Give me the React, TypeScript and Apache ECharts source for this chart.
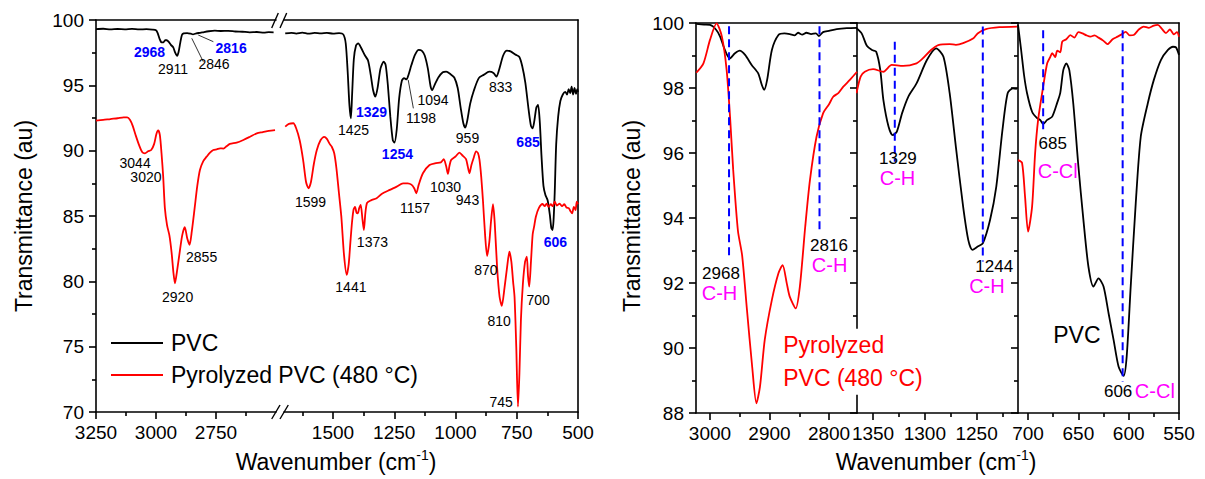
import React, { useEffect, useRef } from 'react';
import * as echarts from 'echarts';

const FONT = "'Liberation Sans', Arial, Helvetica, sans-serif";

// ---------- Left panel: full spectra (wavenumber, transmittance) ----------
const pvcHigh = [
  [3250, 99.3], [3220, 99.33], [3190, 99.28], [3160, 99.31], [3130, 99.29], [3100, 99.32], [3070, 99.28],
  [3040, 99.3], [3015, 99.27], [3000, 99.22], [2993, 99.0], [2986, 98.6], [2978, 98.3], [2970, 98.28],
  [2962, 98.45], [2955, 98.45], [2947, 98.32], [2938, 98.1], [2928, 97.9], [2920, 97.5], [2912, 97.25],
  [2906, 97.55], [2899, 98.25], [2892, 98.85], [2885, 98.98], [2870, 99.0], [2855, 98.95], [2846, 98.9],
  [2832, 98.98], [2816, 99.02], [2800, 99.08], [2780, 99.14], [2755, 99.18], [2730, 99.16], [2700, 99.17],
  [2670, 99.12], [2640, 99.1], [2610, 99.06], [2580, 99.08], [2550, 99.04], [2530, 99.07], [2510, 99.06],
];
const pvcLow = [
  [1695, 98.98], [1670, 99.02], [1650, 98.96], [1625, 99.03], [1600, 98.95], [1575, 99.02], [1550, 98.97],
  [1525, 99.01], [1500, 98.96], [1475, 98.99], [1458, 98.9], [1448, 98.2], [1440, 96.0], [1433, 93.5],
  [1427, 92.48], [1422, 94.3], [1415, 97.0], [1406, 98.05], [1397, 98.21], [1386, 97.9], [1370, 97.3],
  [1357, 96.9], [1346, 95.8], [1336, 94.6], [1327, 94.13], [1318, 94.8], [1306, 96.3], [1293, 96.82],
  [1285, 96.55], [1276, 95.0], [1266, 92.6], [1256, 90.8], [1249, 90.62], [1240, 91.6], [1230, 94.0],
  [1219, 95.35], [1210, 95.55], [1200, 95.45], [1191, 95.85], [1180, 96.55], [1165, 97.35], [1150, 97.72],
  [1138, 97.65], [1126, 97.3], [1113, 96.3], [1102, 94.95], [1095, 94.64], [1086, 95.0], [1070, 95.6],
  [1052, 96.0], [1038, 96.05], [1020, 95.85], [1005, 95.6], [991, 94.8], [979, 93.3], [968, 92.1],
  [960, 91.76], [952, 92.3], [940, 93.6], [925, 94.6], [905, 95.55], [885, 95.8], [862, 96.05],
  [845, 95.95], [833, 95.66], [822, 96.2], [805, 97.3], [790, 97.65], [775, 97.6], [755, 97.35],
  [740, 97.19], [728, 96.5], [715, 95.2], [702, 93.2], [692, 91.9], [685, 91.71], [678, 92.3],
  [670, 93.3], [663, 93.5], [656, 92.2], [649, 89.6], [641, 87.3], [633, 86.6], [624, 86.2],
  [615, 85.1], [609, 84.1], [604, 83.93], [600, 84.6], [595, 86.8], [589, 90.5], [581, 92.6],
  [572, 93.8], [562, 94.3], [552, 94.5], [545, 94.3], [538, 94.7], [532, 94.4], [526, 94.9],
  [520, 94.3], [514, 94.8], [508, 94.35], [503, 94.7], [500, 94.5],
];
const pyroHigh = [
  [3250, 92.3], [3220, 92.35], [3190, 92.42], [3160, 92.48], [3135, 92.55], [3120, 92.55], [3108, 92.35],
  [3097, 91.9], [3085, 91.2], [3070, 90.4], [3057, 89.88], [3046, 89.8], [3033, 89.95], [3020, 90.05],
  [3008, 90.5], [2998, 91.3], [2991, 91.55], [2984, 91.2], [2977, 89.8], [2970, 88.0], [2963, 85.6],
  [2954, 84.3], [2944, 83.5], [2935, 82.2], [2927, 80.6], [2921, 79.85], [2913, 80.7], [2903, 82.0],
  [2891, 83.5], [2880, 84.14], [2870, 83.3], [2860, 82.8], [2851, 83.8], [2839, 85.6], [2828, 87.3],
  [2817, 88.52], [2803, 89.2], [2789, 89.54], [2775, 89.85], [2761, 90.05], [2747, 90.1], [2733, 90.18],
  [2719, 90.16], [2705, 90.35], [2692, 90.52], [2664, 90.62], [2636, 90.82], [2610, 91.05], [2580, 91.33],
  [2555, 91.42], [2530, 91.52], [2504, 91.58],
];
const pyroLow = [
  [1695, 91.84], [1680, 92.05], [1662, 92.1], [1650, 91.7], [1636, 90.8], [1622, 89.3], [1610, 87.6],
  [1600, 87.12], [1590, 87.6], [1578, 89.0], [1566, 90.05], [1551, 90.8], [1536, 91.05], [1525, 90.9],
  [1513, 90.5], [1505, 90.3], [1495, 89.8], [1486, 88.65], [1476, 86.8], [1466, 84.95], [1455, 82.0],
  [1444, 80.49], [1436, 81.3], [1429, 83.0], [1422, 84.6], [1416, 85.5], [1410, 85.7], [1404, 85.25],
  [1399, 85.2], [1393, 85.6], [1387, 85.85], [1380, 84.8], [1374, 83.93], [1368, 85.2], [1361, 86.0],
  [1345, 86.2], [1322, 86.36], [1300, 86.7], [1268, 87.0], [1240, 87.25], [1214, 87.5], [1195, 87.5],
  [1180, 87.4], [1168, 87.1], [1160, 86.74], [1150, 87.4], [1133, 88.27], [1106, 88.9], [1080, 89.05],
  [1060, 89.1], [1048, 89.35], [1038, 88.8], [1031, 88.22], [1025, 88.8], [1018, 89.29], [1000, 89.55],
  [984, 89.85], [970, 89.6], [957, 89.35], [950, 88.8], [943, 88.27], [935, 88.9], [925, 89.5],
  [916, 89.95], [908, 89.8], [902, 89.29], [895, 88.0], [888, 86.2], [879, 83.5], [871, 81.94],
  [862, 83.0], [855, 84.6], [847, 85.9], [840, 84.5], [830, 81.0], [820, 78.8], [811, 78.12],
  [800, 79.5], [790, 81.0], [780, 82.27], [772, 81.5], [765, 80.0], [759, 78.8], [752, 75.0],
  [745, 70.41], [739, 73.0], [733, 77.04], [725, 79.8], [716, 81.5], [709, 81.89], [704, 80.4],
  [699, 79.6], [692, 81.5], [685, 83.6], [679, 84.2], [672, 84.95], [660, 85.6], [645, 85.92],
  [636, 85.75], [628, 85.95], [620, 85.7], [611, 85.9], [603, 85.75], [595, 86.1], [586, 85.8],
  [575, 85.95], [565, 85.75], [556, 85.9], [547, 85.65], [538, 85.6], [530, 85.35], [524, 85.2],
  [517, 85.7], [510, 85.45], [505, 86.1], [500, 85.9],
];

// ---------- Right panel: zoomed regions ----------
const pvcCH = [
  [3023, 99.97], [3010, 99.95], [3000, 99.94], [2990, 99.8], [2983, 99.58], [2975, 99.17], [2967, 98.91],
  [2958, 99.07], [2950, 99.15], [2941, 99.02], [2930, 98.71], [2919, 98.45], [2913, 98.1], [2909, 97.94],
  [2904, 98.25], [2896, 99.17], [2885, 99.63], [2875, 99.68], [2866, 99.66], [2858, 99.62], [2852, 99.7],
  [2845, 99.64], [2838, 99.7], [2830, 99.66], [2822, 99.68], [2817, 99.6], [2810, 99.72], [2800, 99.76],
  [2787, 99.81], [2770, 99.84], [2753, 99.85],
];
const pyroCH = [
  [3023, 98.47], [3011, 98.76], [3000, 99.48], [2989, 99.99], [2980, 99.58], [2972, 98.55], [2966, 97.02],
  [2961, 95.48], [2953, 93.6], [2946, 92.85], [2938, 91.2], [2929, 89.4], [2922, 88.3], [2916, 88.81],
  [2908, 90.25], [2896, 91.48], [2885, 92.3], [2878, 92.55], [2871, 91.99], [2866, 91.58], [2856, 91.22],
  [2849, 91.89], [2840, 93.73], [2832, 95.17], [2821, 96.5], [2810, 97.22], [2800, 97.5], [2793, 97.73],
  [2784, 97.85], [2776, 98.04], [2765, 98.25], [2753, 98.5],
];
const pvcCH2 = [
  [1366, 99.84], [1361, 99.68], [1356, 99.3], [1351, 99.17], [1347, 99.12], [1343, 98.55], [1340, 97.63],
  [1335, 96.81], [1331, 96.55], [1327, 96.66], [1322, 97.22], [1316, 97.73], [1308, 98.14], [1298, 98.86],
  [1289, 99.22], [1282, 98.96], [1276, 97.84], [1270, 96.19], [1263, 94.35], [1258, 93.32], [1254, 93.02],
  [1249, 93.12], [1244, 93.22], [1237, 93.94], [1231, 94.96], [1225, 96.71], [1220, 97.84], [1215, 97.99],
  [1211, 97.97],
];
const pyroCH2 = [
  [1366, 97.84], [1362, 98.35], [1358, 98.5], [1350, 98.58], [1340, 98.5], [1332, 98.71], [1321, 98.68],
  [1308, 98.76], [1302, 98.91], [1294, 99.17], [1287, 99.32], [1276, 99.35], [1270, 99.33], [1263, 99.38],
  [1253, 99.53], [1249, 99.68], [1241, 99.81], [1228, 99.87], [1211, 99.89],
];
const pvcCCl = [
  [710, 99.94], [707, 99.2], [704, 98.4], [701, 97.84], [696, 97.27], [691, 97.07], [688, 97.02],
  [685, 96.89], [681, 97.02], [676, 97.12], [671, 97.55], [668, 97.85], [665, 98.55], [662, 98.76],
  [659, 98.55], [655, 97.5], [650, 95.6], [645, 93.94], [640, 92.5], [635, 91.89], [630, 92.14],
  [625, 91.89], [620, 91.07], [615, 90.25], [610, 89.42], [605, 89.14], [602, 89.73], [598, 91.89],
  [593, 94.45], [588, 96.5], [581, 97.53], [575, 98.25], [568, 98.86], [561, 99.17], [556, 99.27],
  [553, 99.25], [550, 99.02],
];
const pyroCCl = [
  [710, 95.78], [706, 95.7], [703, 94.66], [700, 93.58], [696, 94.35], [693, 95.99], [690, 97.02],
  [685, 98.04], [681, 98.76], [678, 98.95], [676, 99.07], [673, 98.95], [671, 99.15], [668, 99.1],
  [666, 99.43], [662, 99.5], [658, 99.63], [654, 99.55], [650, 99.72], [646, 99.68], [642, 99.62],
  [638, 99.58], [634, 99.62], [630, 99.55], [625, 99.45], [621, 99.35], [616, 99.5], [611, 99.58],
  [607, 99.65], [603, 99.73], [599, 99.62], [595, 99.63], [590, 99.8], [585, 99.89], [580, 99.85],
  [575, 99.92], [571, 99.94], [567, 99.82], [563, 99.69], [559, 99.8], [555, 99.65], [552, 99.72], [550, 99.58],
];

// dashed marker lines: [wavenumber, top, bottom]
const marksCH = [[2968, 99.9, 92.77], [2816, 99.9, 93.63]];
const marksCH2 = [[1329, 99.42, 95.73], [1244, 99.89, 92.66]];
const marksCCl = [[685, 99.78, 96.71], [606, 99.78, 88.96]];

// peak labels: [wavenumber, transmittance, text]
const labelsHighBlack = [[2929, 96.25, '2911'], [2758, 96.63, '2846'], [3087, 89.05, '3044'], [3042, 88.0, '3020'], [2810, 81.86, '2855'], [2910, 78.8, '2920']];
const labelsHighBlue = [[3027, 97.55, '2968'], [2687, 97.86, '2816']];
const labelsLowBlack = [
  [1416, 91.58, '1425'], [1141, 92.5, '1198'], [1092, 93.88, '1094'], [951, 90.97, '959'], [816, 94.87, '833'],
  [1592, 86.07, '1599'], [1165, 85.61, '1157'], [1041, 87.22, '1030'], [951, 86.22, '943'], [1339, 83.01, '1373'],
  [1427, 79.57, '1441'], [876, 80.87, '870'], [663, 78.57, '700'], [822, 76.96, '810'], [814, 70.77, '745'],
];
const labelsLowBlue = [[1343, 92.96, '1329'], [1237, 89.75, '1254'], [704, 90.66, '685'], [592, 83.01, '606']];
// leader lines [x1, y1, x2, y2]
const leadersHigh = [[2851, 98.6, 2803, 96.81], [2824, 98.85, 2761, 98.34]];
const leadersLow = [[1193, 95.41, 1172, 93.24]];

const numCH = [[2981.5, 92.28, '2968'], [2800, 93.14, '2816']];
const bondCH = [[2984, 91.69, 'C-H'], [2799, 92.55, 'C-H']];
const numCH2 = [[1326, 95.82, '1329'], [1233, 92.52, '1244']];
const bondCH2 = [[1326.4, 95.23, 'C-H'], [1240, 91.91, 'C-H']];
const numCCl = [[675.5, 96.28, '685'], [610.5, 88.65, '606']];
const bondCCl = [[670.5, 95.45, 'C-Cl'], [574, 88.68, 'C-Cl']];
const nameCCl = [[651.5, 90.4, 'PVC']];
const nameCH = [[2877, 89.58, 'Pyrolyzed\nPVC (480 °C)']];

const legendItems = [
  { name: 'PVC', color: '#000000' },
  { name: 'Pyrolyzed PVC (480 °C)', color: '#ff0000' },
];

// axis extents / ticks
const leftHighX = { min: 2500, max: 3250, majors: [2750, 3000, 3250], minors: [2625, 2875, 3125] };
const leftLowX = { min: 500, max: 1700, majors: [500, 750, 1000, 1250, 1500], minors: [625, 875, 1125, 1375, 1625] };
const rightAX = { min: 2753, max: 3023.5, majors: [2800, 2900, 3000], minors: [2850, 2950] };
const rightBX = { min: 1210, max: 1365.5, majors: [1250, 1300, 1350], minors: [1225, 1275, 1325] };
const rightCX = { min: 550, max: 710, majors: [550, 600, 650, 700], minors: [575, 625, 675] };

const AX = { color: '#000', width: 1.6 };
const plain = (v: number) => String(v);

function xAxes(gridIndex: number, cfg: any) {
  return [
    {
      type: 'value', gridIndex, min: cfg.min, max: cfg.max, inverse: true, position: 'bottom',
      axisLine: { show: true, onZero: false, lineStyle: AX },
      axisTick: { show: true, inside: false, length: 7, customValues: cfg.majors, lineStyle: AX },
      axisLabel: { show: true, customValues: cfg.majors, formatter: plain, fontSize: 19, fontFamily: FONT, color: '#000', margin: 11 },
      splitLine: { show: false },
    },
    {
      type: 'value', gridIndex, min: cfg.min, max: cfg.max, inverse: true, position: 'bottom',
      axisLine: { show: false },
      axisTick: { show: true, inside: false, length: 4, customValues: cfg.minors, lineStyle: AX },
      axisLabel: { show: false },
      splitLine: { show: false },
    },
    {
      type: 'value', gridIndex, min: cfg.min, max: cfg.max, inverse: true, position: 'top',
      axisLine: { show: true, onZero: false, lineStyle: AX },
      axisTick: { show: false }, axisLabel: { show: false }, splitLine: { show: false },
    },
  ];
}

function yAxis(gridIndex: number, min: number, max: number, interval: number, labels: boolean, ticks: boolean, position = 'left', show = true) {
  return {
    type: 'value', gridIndex, min, max, interval, position, show,
    axisLine: { show: true, onZero: false, lineStyle: AX },
    axisTick: { show: ticks, inside: false, length: 7, lineStyle: AX },
    minorTick: { show: ticks, splitNumber: 2, length: 4, lineStyle: AX },
    axisLabel: { show: labels, formatter: plain, fontSize: 19, fontFamily: FONT, color: '#000', margin: 12 },
    splitLine: { show: false }, minorSplitLine: { show: false },
  };
}

function curve(data: number[][], color: string, xi: number, yi: number) {
  return {
    type: 'line', data, xAxisIndex: xi, yAxisIndex: yi, symbol: 'none', smooth: 0.25,
    lineStyle: { color, width: 1.8 }, silent: true, z: color === '#ff0000' ? 3 : 2,
  };
}

function dashes(marks: number[][], xi: number, yi: number) {
  return marks.map((m) => ({
    type: 'line', data: [[m[0], m[1]], [m[0], m[2]]], xAxisIndex: xi, yAxisIndex: yi, symbol: 'none',
    lineStyle: { color: '#0000ff', width: 2, type: [8, 5] }, silent: true, z: 4,
  }));
}

function leaders(items: number[][], xi: number, yi: number) {
  return items.map((m) => ({
    type: 'line', data: [[m[0], m[1]], [m[2], m[3]]], xAxisIndex: xi, yAxisIndex: yi, symbol: 'none',
    lineStyle: { color: '#000', width: 0.8 }, silent: true, z: 4,
  }));
}

function labels(items: any[], xi: number, yi: number, style: any) {
  return {
    type: 'scatter', data: items, xAxisIndex: xi, yAxisIndex: yi, symbolSize: 0, silent: true, z: 6,
    itemStyle: { color: 'rgba(0,0,0,0)', opacity: 1 },
    label: {
      show: true, position: 'inside', formatter: (p: any) => p.value[2], opacity: 1,
      fontFamily: FONT, textBorderWidth: 0, ...style,
    },
  };
}

function buildOption() {
  const grid = [
    { left: 96, top: 20, width: 180, height: 392 },
    { left: 284, top: 20, width: 294, height: 392 },
    { left: 696, top: 23, width: 161, height: 390 },
    { left: 857, top: 23, width: 161, height: 390 },
    { left: 1018, top: 23, width: 161, height: 390 },
  ];
  const xAxis = [
    ...xAxes(0, leftHighX), ...xAxes(1, leftLowX), ...xAxes(2, rightAX), ...xAxes(3, rightBX), ...xAxes(4, rightCX),
  ];
  const yAxisList = [
    yAxis(0, 70, 100, 5, true, true),                       // 0
    yAxis(1, 70, 100, 5, false, false, 'left', false),      // 1 hidden
    yAxis(1, 70, 100, 5, false, false, 'right'),            // 2 frame
    yAxis(2, 88, 100, 2, true, true),                       // 3
    yAxis(3, 88, 100, 2, false, true),                      // 4
    yAxis(4, 88, 100, 2, false, true),                      // 5
    yAxis(4, 88, 100, 2, false, false, 'right'),            // 6 frame
  ];
  const black = { fontSize: 14, color: '#000' };
  const blue = { fontSize: 14, color: '#0000ff', fontWeight: 'bold' };
  const num = { fontSize: 17, color: '#000' };
  const bond = { fontSize: 20, color: '#ff00ff' };
  const series: any[] = [
    curve(pvcHigh, '#000000', 0, 0), curve(pyroHigh, '#ff0000', 0, 0),
    curve(pvcLow, '#000000', 3, 1), curve(pyroLow, '#ff0000', 3, 1),
    curve(pvcCH, '#000000', 6, 3), curve(pyroCH, '#ff0000', 6, 3),
    curve(pvcCH2, '#000000', 9, 4), curve(pyroCH2, '#ff0000', 9, 4),
    curve(pvcCCl, '#000000', 12, 5), curve(pyroCCl, '#ff0000', 12, 5),
    ...dashes(marksCH, 6, 3), ...dashes(marksCH2, 9, 4), ...dashes(marksCCl, 12, 5),
    ...leaders(leadersHigh, 0, 0), ...leaders(leadersLow, 3, 1),
    labels(labelsHighBlack, 0, 0, black), labels(labelsHighBlue, 0, 0, blue),
    labels(labelsLowBlack, 3, 1, black), labels(labelsLowBlue, 3, 1, blue),
    labels(numCH, 6, 3, num), labels(bondCH, 6, 3, bond),
    labels(numCH2, 9, 4, num), labels(bondCH2, 9, 4, bond),
    labels(numCCl, 12, 5, num), labels(bondCCl, 12, 5, bond),
    labels(nameCCl, 12, 5, { fontSize: 23, color: '#000' }),
    {
      ...labels(nameCH, 6, 3, {}),
      label: {
        show: true, position: [0, 0], align: 'left', verticalAlign: 'middle', formatter: (p: any) => p.value[2],
        fontFamily: FONT, fontSize: 23, lineHeight: 33, color: '#ff0000', backgroundColor: '#ffffff',
        textBorderWidth: 0, opacity: 1,
      },
    },
  ];

  const slash = (x1: number, y1: number, x2: number, y2: number) => ({
    type: 'line', shape: { x1, y1, x2, y2 }, style: { stroke: '#000', lineWidth: 1.4 }, z: 10,
  });
  const xTitle = (x: number) => ({
    type: 'text', x, y: 462, z: 10,
    style: {
      text: '{a|Wavenumber (cm}{s|-1}{a|)}', align: 'center', verticalAlign: 'middle', fill: '#000',
      rich: {
        a: { fontSize: 23, fontFamily: FONT, lineHeight: 28, fill: '#000' },
        s: { fontSize: 14, fontFamily: FONT, lineHeight: 14, verticalAlign: 'top', fill: '#000' },
      },
    },
  });
  const yTitle = (x: number) => ({
    type: 'text', x, y: 216, rotation: Math.PI / 2, z: 10,
    style: { text: 'Transmittance (au)', fontSize: 23, fontFamily: FONT, fill: '#000', align: 'center', verticalAlign: 'middle' },
  });
  const graphic: any[] = [
    slash(271.7, 28, 278.3, 13), slash(280, 28, 286.7, 13),
    slash(271.7, 419, 280, 405), slash(280, 419, 288.3, 405),
    xTitle(336), xTitle(936), yTitle(24), yTitle(632),
  ];
  legendItems.forEach((it, i) => {
    const y = 343 + i * 32;
    graphic.push({ type: 'line', shape: { x1: 111, y1: y, x2: 163, y2: y }, style: { stroke: it.color, lineWidth: 2 }, z: 10 });
    graphic.push({
      type: 'text', x: 171, y, z: 10,
      style: { text: it.name, fontSize: 23, fontFamily: FONT, fill: '#000', align: 'left', verticalAlign: 'middle' },
    });
  });

  return {
    animation: false,
    backgroundColor: '#ffffff',
    textStyle: { fontFamily: FONT },
    grid,
    xAxis,
    yAxis: yAxisList,
    series,
    graphic,
  };
}

export default function App() {
  const ref = useRef<HTMLDivElement>(null);
  useEffect(() => {
    if (!ref.current) return;
    const chart = echarts.init(ref.current, null, { renderer: 'svg' });
    chart.setOption(buildOption() as any);
    return () => chart.dispose();
  }, []);
  return (
    <div
      ref={ref}
      style={{ position: 'absolute', left: 0, top: 0, width: 1205, height: 479, background: '#fff' }}
    />
  );
}
